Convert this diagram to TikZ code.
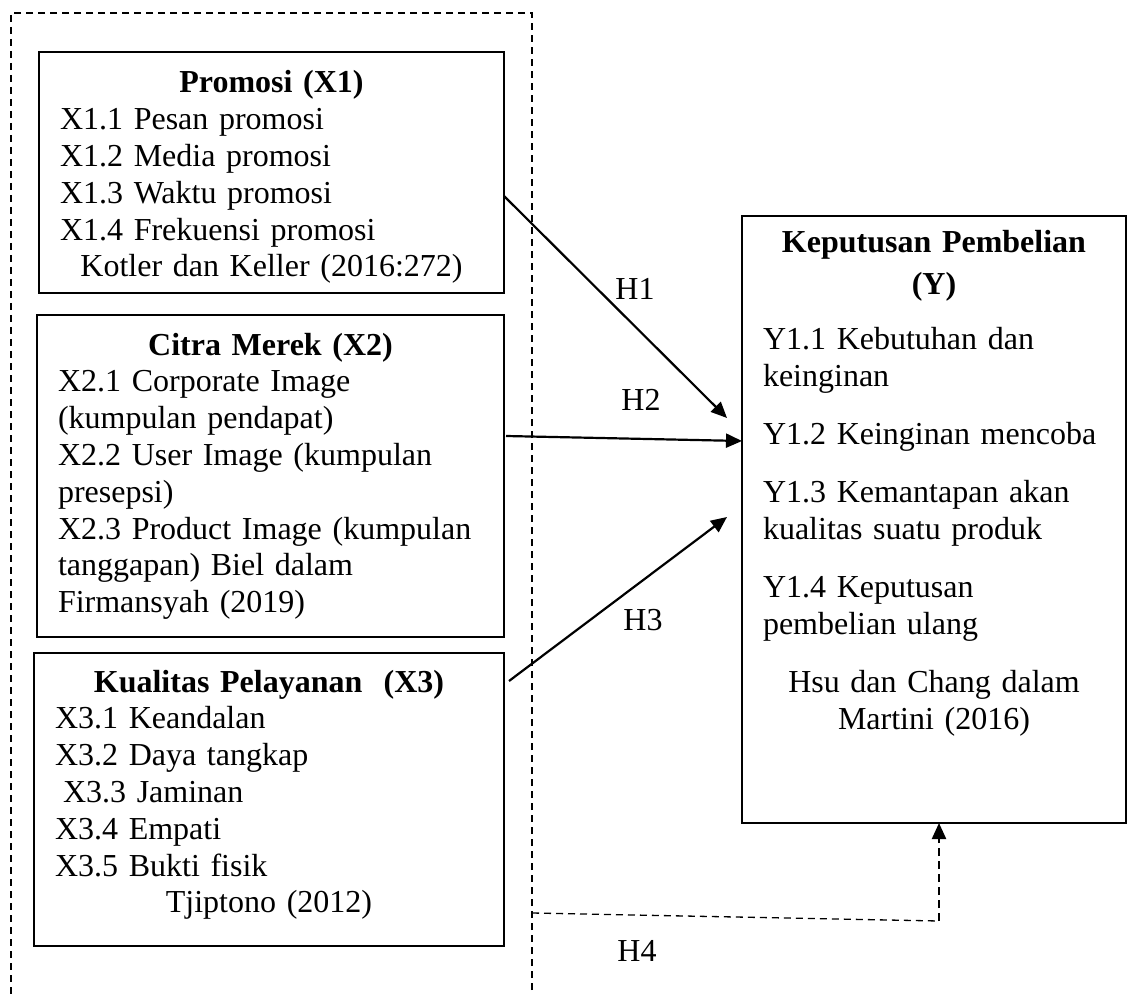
\documentclass[tikz,border=0pt]{standalone}
\usepackage{fontspec}
\setmainfont{Liberation Serif}
\usetikzlibrary{arrows.meta,calc}
\newcommand{\tengah}[1]{\makebox[\linewidth][c]{#1}}
\begin{document}
\begin{tikzpicture}[x=0.5pt,y=-0.5pt,
    kotak/.style={draw,line width=0.8pt,anchor=north west,inner xsep=10.5pt,inner ysep=0pt,outer sep=0pt,align=left,font=\fontsize{16}{18.4}\selectfont},
    panah/.style={line width=1.1pt,-{Triangle[length=8pt,width=7pt]}},
    garisputus/.style={line width=0.65pt,dash pattern=on 3.5pt off 2.5pt},
    teksh/.style={inner sep=0pt,font=\fontsize{16}{18.4}\selectfont}]
    \useasboundingbox (0,0) rectangle (1128,994);
    \node[draw,garisputus,minimum width=260.5pt,minimum height=504pt,anchor=north west,inner sep=0pt,outer sep=0pt] (kerangka) at (11,13) {};
    \node[kotak,text width=211.5pt,text height=20.5pt,text depth=100pt] (p1) at (39,52) {\tengah{\textbf{Promosi (X1)}}\\
      X1.1 Pesan promosi\\
      X1.2 Media promosi\\
      X1.3 Waktu promosi\\
      X1.4 Frekuensi promosi\\
      \tengah{Kotler dan Keller (2016:272)}};
    \node[kotak,text width=212.5pt,text height=20pt,text depth=141pt] (p2) at (37,315) {\tengah{\textbf{Citra Merek (X2)}}\\
      X2.1 Corporate Image\\
      (kumpulan pendapat)\\
      X2.2 User Image (kumpulan\\
      presepsi)\\
      X2.3 Product Image (kumpulan\\
      tanggapan) Biel dalam\\
      Firmansyah (2019)};
    \node[kotak,text width=214pt,text height=19.5pt,text depth=127pt] (p3) at (34,653) {\tengah{\textbf{Kualitas Pelayanan\ \ (X3)}}\\
      X3.1 Keandalan\\
      X3.2 Daya tangkap\\
      \hspace*{4pt}X3.3 Jaminan\\
      X3.4 Empati\\
      X3.5 Bukti fisik\\
      \tengah{Tjiptono (2012)}};
    \node[kotak,text width=171pt,text height=18.5pt,text depth=285pt] (y) at (742,216) {\tengah{\textbf{Keputusan Pembelian}}\\[2.6pt]
      \tengah{\textbf{(Y)}}\\[9pt]
      Y1.1 Kebutuhan dan\\
      keinginan\\[10.6pt]
      Y1.2 Keinginan mencoba\\[10.6pt]
      Y1.3 Kemantapan akan\\
      kualitas suatu produk\\[10.6pt]
      Y1.4 Keputusan\\
      pembelian ulang\\[10.6pt]
      \tengah{Hsu dan Chang dalam}\\
      \tengah{Martini (2016)}};
    \draw[panah] ($(p1.north east)+(0,144)$) -- ($(y.north west)+(-15,202)$);
    \draw[panah] ($(p2.north east)+(2,121)$) -- ($(y.north west)+(0,225)$);
    \draw[panah] ($(p3.north east)+(5,28)$) -- ($(y.north west)+(-15,301)$);
    \coordinate (sudut) at ($(y.south west)+(197,98)$);
    \draw[garisputus] ($(kerangka.north east)+(0,900)$) -- (sudut);
    \draw[panah,dash pattern=on 4pt off 2.5pt] (sudut) -- (sudut |- y.south);
    \node[teksh] (h1) at (635,289) {H1};
    \node[teksh] (h2) at (641,400) {H2};
    \node[teksh] (h3) at (643,620) {H3};
    \node[teksh] (h4) at (637,951) {H4};
\end{tikzpicture}
\end{document}
